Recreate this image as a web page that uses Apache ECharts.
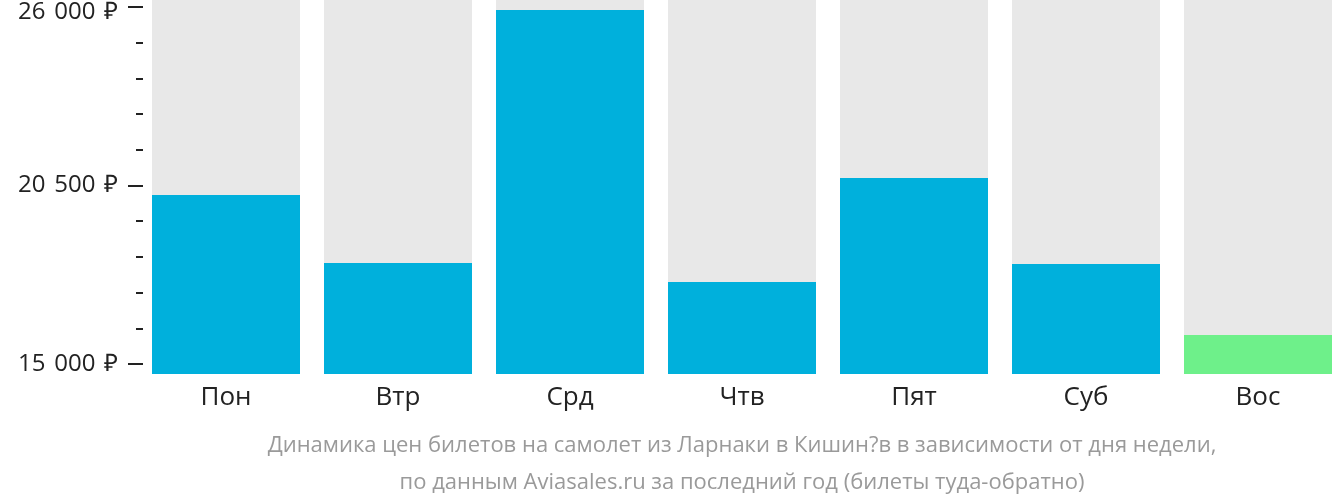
<!DOCTYPE html>
<html><head><meta charset="utf-8">
<script src="https://cdn.jsdelivr.net/npm/echarts@6/dist/echarts.min.js"></script>
<style>html,body{margin:0;padding:0;background:#fff}#c{width:1332px;height:502px}</style>
</head><body><div id="c"></div>
<script>
const categories = ['Пон', 'Втр', 'Срд', 'Чтв', 'Пят', 'Суб', 'Вос'];
const prices = [20210, 18110, 25910, 17530, 20730, 18080, 15890];
const majorTicks = [15000, 20500, 26000];
const minorTicks = [16100, 17200, 18300, 19400, 21600, 22700, 23800, 24900];
const captionLines = ['Динамика цен билетов на самолет из Ларнаки в Кишин?в в зависимости от дня недели,', 'по данным Aviasales.ru за последний год (билеты туда-обратно)'];
const cheapestColor = '#6ef08a', normalColor = '#00b0dc';

const axisMin = 14692, axisMax = 26216;
const minIdx = prices.indexOf(Math.min(...prices));
const fmt = v => {
  const s = String(v).replace(/\B(?=(\d{3})+(?!\d))/g, ' \u200A') + ' \u200A₽';
  return v === Math.max(...majorTicks) ? '{t|' + s + '}' : '{n|' + s + '}';
};
const lblStyle = {color: '#222', fontSize: 24, fontFamily: 'Open Sans'};

const chart = echarts.init(document.getElementById('c'));
chart.setOption({
  animation: false,
  textStyle: {fontFamily: 'Open Sans'},
  grid: {left: 140, top: 0, width: 1204, bottom: 128, outerBoundsMode: 'none'},
  title: {
    text: captionLines.join('\n'),
    left: 737, textAlign: 'center', top: 422,
    textStyle: {fontFamily: 'Open Sans', fontSize: 22, fontWeight: 'normal', color: '#9a9a9a', lineHeight: 37}
  },
  xAxis: {
    type: 'category', data: categories,
    axisLine: {show: false}, axisTick: {show: false},
    axisLabel: {color: '#222', fontSize: 26, margin: 11, fontFamily: 'Open Sans'}
  },
  yAxis: [{
    type: 'value', min: axisMin, max: axisMax, offset: -3,
    splitLine: {show: false}, axisLine: {show: false},
    axisTick: {show: true, length: 15, customValues: majorTicks, lineStyle: {color: '#222', width: 2}},
    axisLabel: {customValues: majorTicks, formatter: fmt, margin: 25,
      rich: {n: Object.assign({}, lblStyle), t: Object.assign({padding: [10, 0, 0, 0]}, lblStyle)}}
  }, {
    type: 'value', min: axisMin, max: axisMax, position: 'left', offset: -3,
    splitLine: {show: false}, axisLine: {show: false},
    axisTick: {show: true, length: 7, customValues: minorTicks, lineStyle: {color: '#222', width: 2}},
    axisLabel: {show: false}
  }],
  series: [{
    type: 'bar', barWidth: 148,
    showBackground: true, backgroundStyle: {color: '#e8e8e8'},
    data: prices.map((v, i) => ({value: v, itemStyle: {color: i === minIdx ? cheapestColor : normalColor}}))
  }]
});
</script></body></html>
